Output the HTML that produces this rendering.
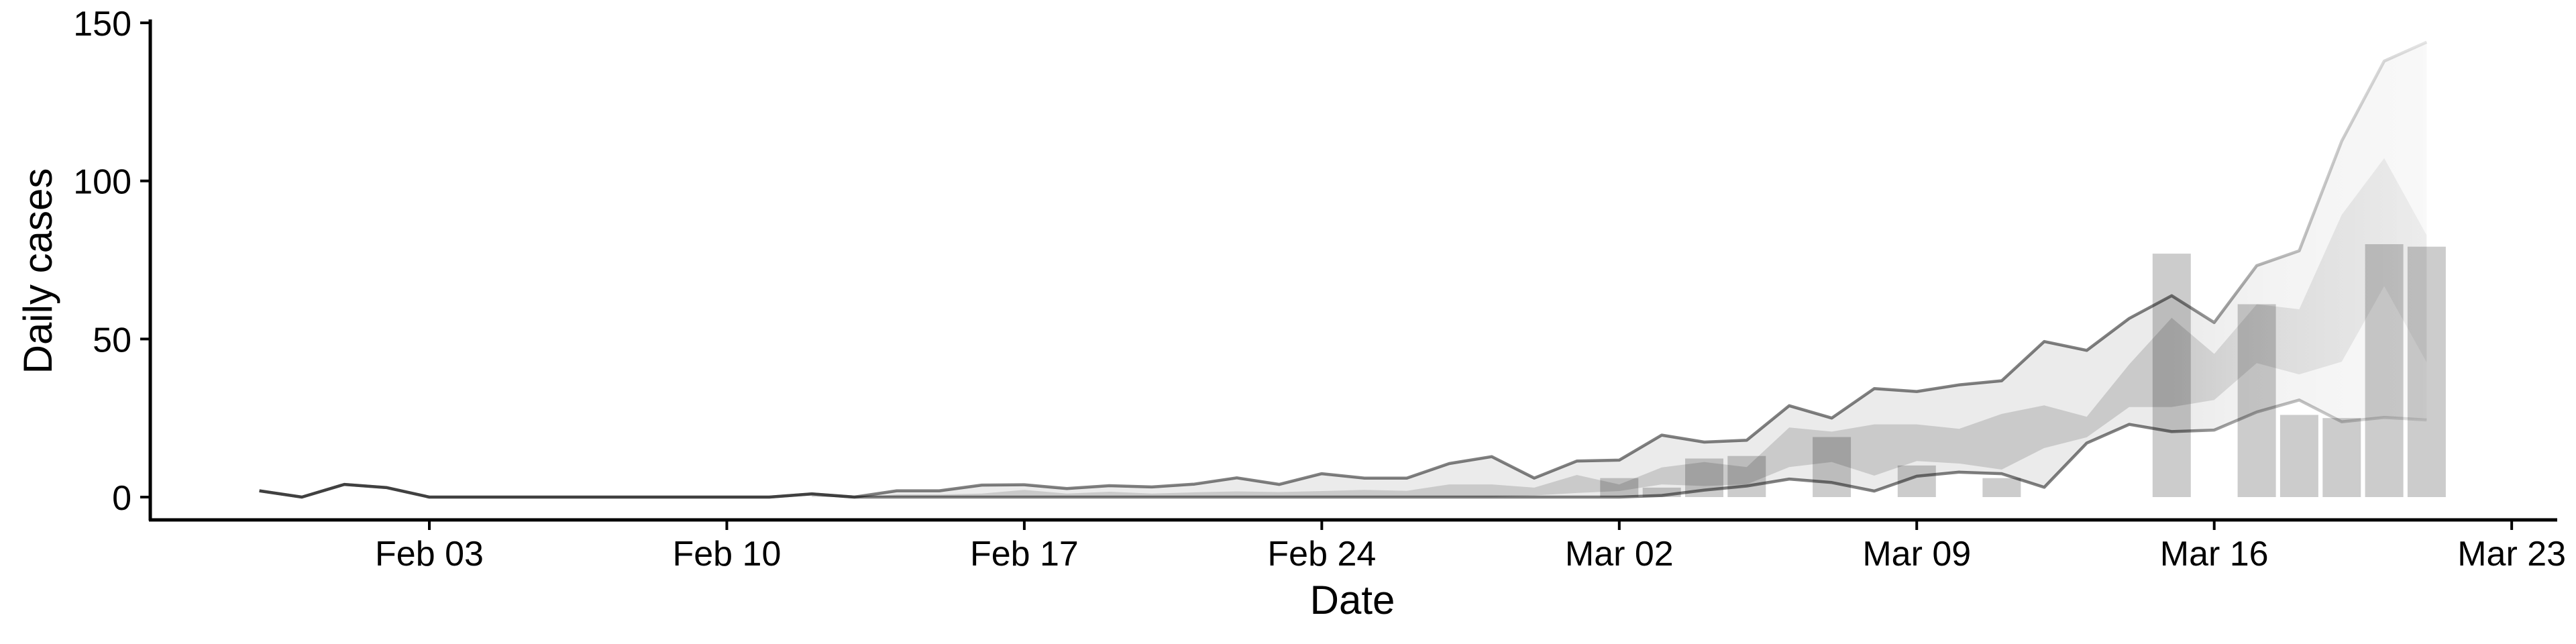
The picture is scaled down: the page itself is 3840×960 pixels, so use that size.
<!DOCTYPE html>
<html><head><meta charset="utf-8"><style>
html,body{margin:0;padding:0;background:#fff;}
svg{display:block;font-family:"Liberation Sans",sans-serif;}
</style></head><body>
<svg id="chart" width="3840" height="960" viewBox="0 0 3840 960">
<defs>
<linearGradient id="lineGrad" gradientUnits="userSpaceOnUse" x1="0" y1="0" x2="3840" y2="0"></linearGradient>
<linearGradient id="outerGrad" gradientUnits="userSpaceOnUse" x1="0" y1="0" x2="3840" y2="0"></linearGradient>
<linearGradient id="innerGrad" gradientUnits="userSpaceOnUse" x1="0" y1="0" x2="3840" y2="0"></linearGradient>
</defs>
<g id="plot"></g>
<g id="axes"></g>
</svg>
<script>
// Day index 0 = Jan 30 (2020)
const dayCount = 52;
const upperLine = [2,0,4,3,0,0,0,0,0,0,0,0,0,1,0,2,2,3.8,3.9,2.7,3.6,3.2,4.1,6.1,4,7.4,6,6,10.6,12.8,6,11.4,11.7,19.6,17.4,18,28.9,25,34.3,33.4,35.5,36.8,49.2,46.4,56.5,63.7,55.2,73.2,77.9,112.6,137.9,143.9];
const lowerLine = [2,0,4,3,0,0,0,0,0,0,0,0,0,1,0,0,0,0,0,0,0,0,0,0,0,0,0,0,0,0,0,0,0,0.5,2.2,3.5,5.7,4.6,1.9,6.6,7.9,7.4,3.1,17.1,23,20.7,21.2,26.9,30.7,23.8,25.2,24.4];
const innerTop = [null,null,null,null,null,null,null,null,null,null,null,null,null,0.5,0,0.8,0.8,1.1,2.3,1.1,1.7,1.1,1.5,1.8,1.6,1.9,2.3,2,4,4,3,7,4,9.4,11.1,9.5,22,20.7,23,23,21.6,26.3,29,25.4,42,56.7,45.3,61,59.4,89.3,107.2,82.8];
const innerBot = [null,null,null,null,null,null,null,null,null,null,null,null,null,0,0,0,0,0,0,0,0,0,0,0,0,0,0,0,0,0,0.5,1.3,1.9,4,3.5,4,9.5,11.1,6.8,11.4,10.6,8.7,15.5,18.9,28.5,28.5,30.7,42.4,38.8,42.8,66.7,42.6];
const barValues = [null,null,null,null,null,null,null,null,null,null,null,null,null,null,null,null,null,null,null,null,null,null,null,null,null,null,null,null,null,null,null,null,6,3,12.2,13,null,19,null,10,null,6,null,null,null,77,null,61,26,25,80,79.2];
const yTicks = [0,50,100,150];
const xTickDays = [4,11,18,25,32,39,46,53];
const xTickLabels = ["Feb 03","Feb 10","Feb 17","Feb 24","Mar 02","Mar 09","Mar 16","Mar 23"];

const NS = "http://www.w3.org/2000/svg";
const X0 = 640 - 4*63.35;
function xs(d){ return X0 + d*63.35; }
function ys(v){ return 741 - v*4.713; }
function mk(tag, attrs, parent){
  const e = document.createElementNS(NS, tag);
  for (const k in attrs) e.setAttribute(k, attrs[k]);
  parent.appendChild(e); return e;
}
const plot = document.getElementById('plot');
const axes = document.getElementById('axes');

function stops(id, list){
  const g = document.getElementById(id);
  list.forEach(s => mk('stop', {offset: (s[0]/3840).toFixed(4), 'stop-color':'#000', 'stop-opacity': s[1]}, g));
}
stops('lineGrad', [[0,0.5],[xs(45),0.5],[xs(47),0.3],[xs(49),0.2],[xs(51),0.1]]);
stops('outerGrad', [[0,0.08],[xs(45),0.08],[xs(47),0.05],[xs(51),0.025]]);
stops('innerGrad', [[0,0.14],[xs(45),0.14],[xs(47),0.1],[xs(51),0.05]]);

function bandPath(top, bot){
  const idx = [];
  for (let i=0;i<dayCount;i++) if (top[i]!=null && bot[i]!=null) idx.push(i);
  let d = idx.map((i,k)=>(k?'L':'M')+xs(i).toFixed(1)+','+ys(top[i]).toFixed(1)).join(' ');
  d += ' ' + idx.slice().reverse().map(i=>'L'+xs(i).toFixed(1)+','+ys(bot[i]).toFixed(1)).join(' ') + ' Z';
  return d;
}
const outerTop = upperLine.map((v,i)=> i>=12 ? v : null);
const outerBot = lowerLine.map((v,i)=> i>=12 ? v : null);
const ob = mk('path', {d: bandPath(outerTop, outerBot), fill:'url(#outerGrad)'}, plot);


const ib = mk('path', {d: bandPath(innerTop, innerBot), fill:'url(#innerGrad)'}, plot);



barValues.forEach((v,i)=>{
  if (v==null) return;
  const r = mk('rect', {x:(xs(i)-28.5).toFixed(1), y:ys(v).toFixed(1), width:57, height:(ys(0)-ys(v)).toFixed(1), fill:'#000', 'fill-opacity':0.2}, plot);
  
  
});

function linePath(arr){ return arr.map((v,i)=>(i?'L':'M')+xs(i).toFixed(1)+','+ys(v).toFixed(1)).join(' '); }
const ul = mk('path', {d: linePath(upperLine), fill:'none', stroke:'url(#lineGrad)', 'stroke-width':4.5, 'stroke-linejoin':'round'}, plot);


const ll = mk('path', {d: linePath(lowerLine), fill:'none', stroke:'url(#lineGrad)', 'stroke-width':4.5, 'stroke-linejoin':'round'}, plot);



const ya = mk('line', {x1:224, y1:29, x2:224, y2:776, stroke:'#000', 'stroke-width':5}, axes);


const xa = mk('line', {x1:222, y1:775, x2:3812, y2:775, stroke:'#000', 'stroke-width':5}, axes);


yTicks.forEach(v=>{
  const t = mk('line', {x1:209, y1:ys(v), x2:224, y2:ys(v), stroke:'#000', 'stroke-width':4}, axes);
  
  
  const l = mk('text', {x:196, y:ys(v)+19, 'text-anchor':'end', 'font-size':52, fill:'#000'}, axes);
  l.textContent = v;
  
  
});
xTickDays.forEach((d,k)=>{
  const t = mk('line', {x1:xs(d), y1:775, x2:xs(d), y2:790, stroke:'#000', 'stroke-width':4}, axes);
  
  
  const l = mk('text', {x:xs(d), y:843, 'text-anchor':'middle', 'font-size':52, fill:'#000'}, axes);
  l.textContent = xTickLabels[k];
  
  
});
const xt = mk('text', {x:2016, y:915, 'text-anchor':'middle', 'font-size':60, fill:'#000'}, axes);
xt.textContent = 'Date';


const yt = mk('text', {x:0, y:0, 'text-anchor':'middle', 'font-size':60, fill:'#000', transform:'translate(77,404) rotate(-90)'}, axes);
yt.textContent = 'Daily cases';


</script>
</body></html>
